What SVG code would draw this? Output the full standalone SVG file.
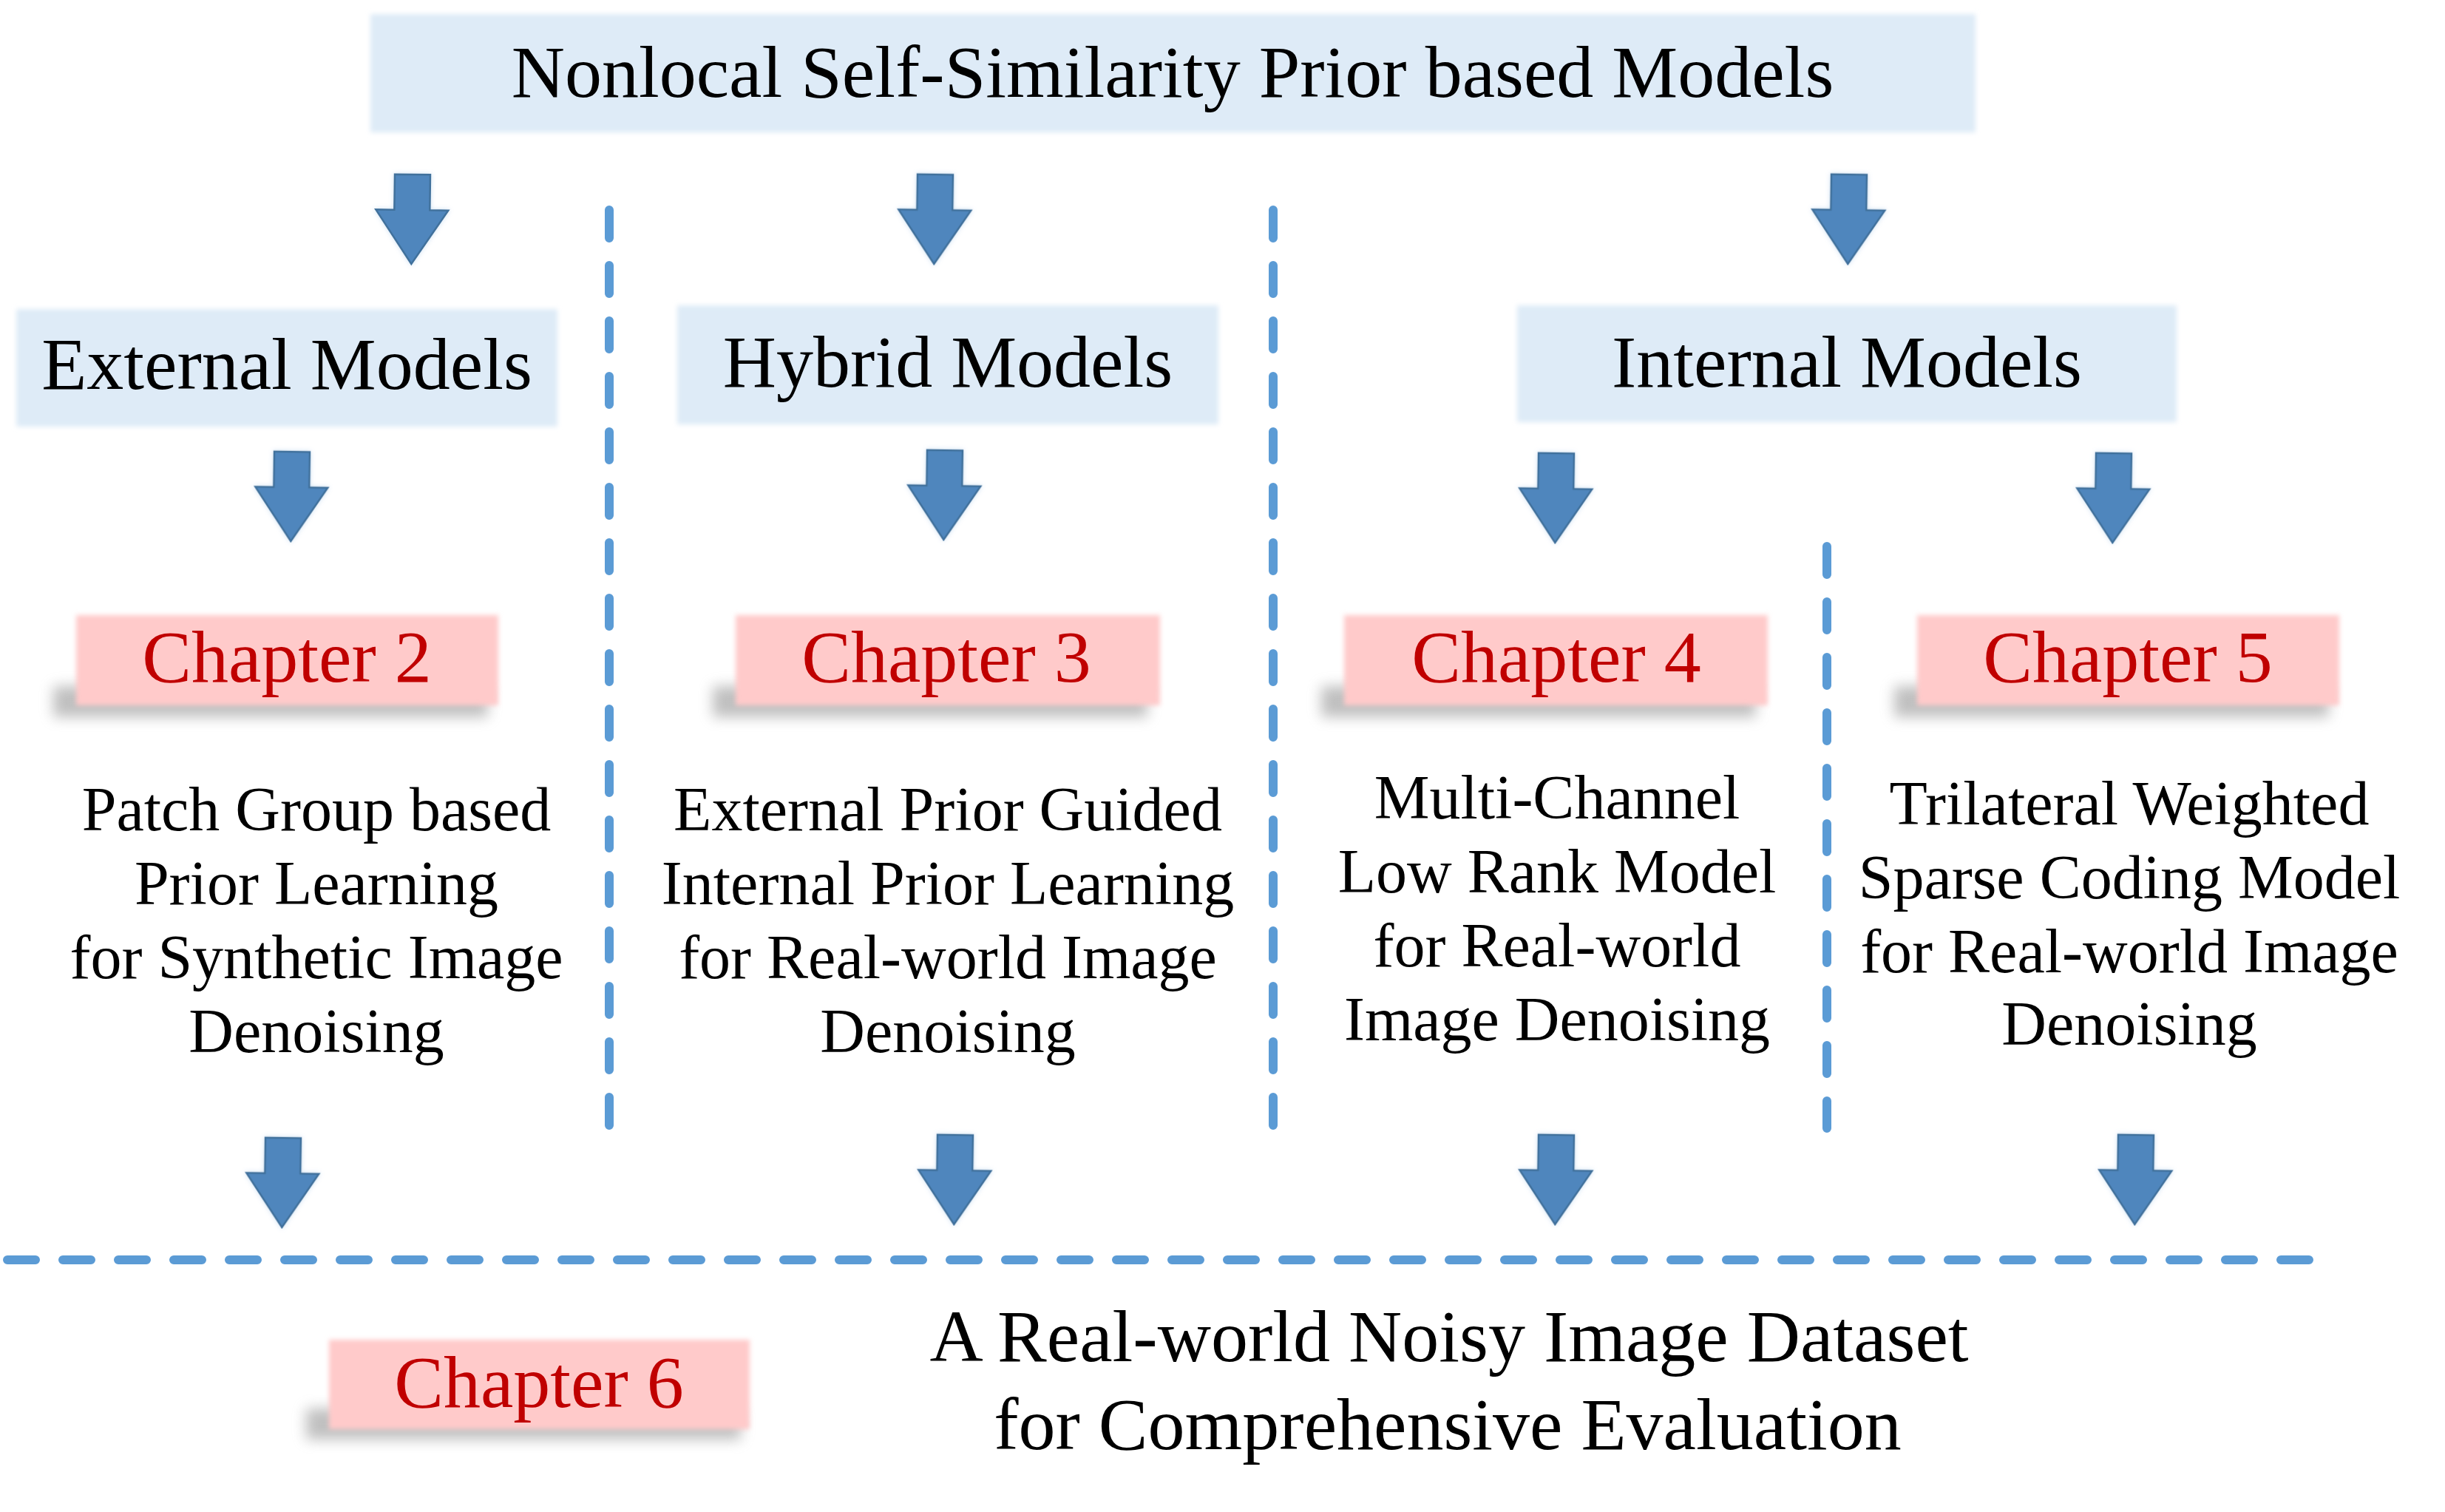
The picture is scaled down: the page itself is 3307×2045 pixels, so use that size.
<svg xmlns="http://www.w3.org/2000/svg" xmlns:xlink="http://www.w3.org/1999/xlink" width="3307" height="2045" viewBox="0 0 3307 2045">
<style>
.bbox{fill:#DEEBF7;filter:url(#soft)}
.pbox{fill:#FFCACA;filter:url(#soft)}
.shadow{fill:#8C8C8C;opacity:0.55;filter:url(#shblur)}
.t{font-family:"Liberation Serif","Times New Roman",serif;text-anchor:middle;fill:#000}
.big{font-size:100px}
.mid{font-size:84px}
.ch{font-size:100px;fill:#C00000}
.arrow{fill:#4F86BD;stroke:#41719C;stroke-width:2.5;stroke-linejoin:miter}
.vdash{stroke:#5B9BD5;stroke-width:12;stroke-linecap:round;stroke-dasharray:38 37;fill:none}
.hdash{stroke:#5B9BD5;stroke-width:12;stroke-linecap:round;stroke-dasharray:38 37;fill:none}
</style>
<defs>
<filter id="soft" x="-5%" y="-10%" width="110%" height="120%"><feGaussianBlur stdDeviation="3"/></filter>
<filter id="shblur" x="-10%" y="-50%" width="120%" height="200%"><feGaussianBlur stdDeviation="9"/></filter>
<filter id="aglow" x="-30%" y="-30%" width="160%" height="160%"><feGaussianBlur in="SourceAlpha" stdDeviation="3" result="b"/><feFlood flood-color="#9DC3E6" flood-opacity="0.5"/><feComposite in2="b" operator="in" result="g"/><feMerge><feMergeNode in="g"/><feMergeNode in="SourceGraphic"/></feMerge></filter>
<path id="arr" d="M-24,0 L24,0 L24,48 L49,48 L0,121 L-49,48 L-24,48 Z"/>
</defs>
<rect width="3307" height="2045" fill="#fff"/>

<g id="connectors">
<g id="arrows" filter="url(#aglow)">
<use xlink:href="#arr" class="arrow" transform="translate(558,236) rotate(0.8)"/>
<use xlink:href="#arr" class="arrow" transform="translate(1265,236) rotate(0.8)"/>
<use xlink:href="#arr" class="arrow" transform="translate(2501,236) rotate(0.8)"/>
<use xlink:href="#arr" class="arrow" transform="translate(395,611) rotate(0.8)"/>
<use xlink:href="#arr" class="arrow" transform="translate(1278,609) rotate(0.8)"/>
<use xlink:href="#arr" class="arrow" transform="translate(2105,613) rotate(0.8)"/>
<use xlink:href="#arr" class="arrow" transform="translate(2859,613) rotate(0.8)"/>
<use xlink:href="#arr" class="arrow" transform="translate(383,1539) rotate(0.8)"/>
<use xlink:href="#arr" class="arrow" transform="translate(1292,1535) rotate(0.8)"/>
<use xlink:href="#arr" class="arrow" transform="translate(2105,1535) rotate(0.8)"/>
<use xlink:href="#arr" class="arrow" transform="translate(2889,1535) rotate(0.8)"/>
</g>
<line class="vdash" x1="824" y1="284" x2="824" y2="1522"/>
<line class="vdash" x1="1722" y1="284" x2="1722" y2="1522"/>
<line class="vdash" x1="2471" y1="739" x2="2471" y2="1526"/>
<line class="hdash" x1="10" y1="1704" x2="3124" y2="1704"/>
</g>

<g id="top">
<rect class="bbox" x="501" y="19" width="2171" height="160"/>
<text class="t big" x="1586" y="131">Nonlocal Self-Similarity Prior based Models</text>
</g>

<g id="external">
<rect class="bbox" x="22" y="418" width="732" height="159"/>
<text class="t big" x="388" y="526">External Models</text>
</g>

<g id="hybrid">
<rect class="bbox" x="916" y="413" width="732" height="161"/>
<text class="t big" x="1282" y="523">Hybrid Models</text>
</g>

<g id="internal">
<rect class="bbox" x="2052" y="413" width="892" height="158"/>
<text class="t big" x="2498" y="523">Internal Models</text>
</g>

<g id="ch2">
<rect class="shadow" x="72" y="928" width="588" height="42"/>
<rect class="pbox" x="103" y="832" width="571" height="122"/>
<text class="t ch" x="388" y="922">Chapter 2</text>
</g>

<g id="ch3">
<rect class="shadow" x="964" y="928" width="588" height="42"/>
<rect class="pbox" x="995" y="832" width="574" height="122"/>
<text class="t ch" x="1280" y="922">Chapter 3</text>
</g>

<g id="ch4">
<rect class="shadow" x="1787" y="928" width="588" height="42"/>
<rect class="pbox" x="1818" y="832" width="573" height="122"/>
<text class="t ch" x="2105" y="922">Chapter 4</text>
</g>

<g id="ch5">
<rect class="shadow" x="2562" y="928" width="588" height="42"/>
<rect class="pbox" x="2593" y="832" width="571" height="122"/>
<text class="t ch" x="2878" y="922">Chapter 5</text>
</g>

<g id="desc2">
<text class="t mid" x="428" y="1123">Patch Group based</text>
<text class="t mid" x="428" y="1223">Prior Learning</text>
<text class="t mid" x="428" y="1323">for Synthetic Image</text>
<text class="t mid" x="428" y="1423">Denoising</text>
</g>

<g id="desc3">
<text class="t mid" x="1282" y="1123">External Prior Guided</text>
<text class="t mid" x="1282" y="1223">Internal Prior Learning</text>
<text class="t mid" x="1282" y="1323">for Real-world Image</text>
<text class="t mid" x="1282" y="1423">Denoising</text>
</g>

<g id="desc4">
<text class="t mid" x="2106" y="1107">Multi-Channel</text>
<text class="t mid" x="2106" y="1207">Low Rank Model</text>
<text class="t mid" x="2106" y="1307">for Real-world</text>
<text class="t mid" x="2106" y="1407">Image Denoising</text>
</g>

<g id="desc5">
<text class="t mid" x="2880" y="1115">Trilateral Weighted</text>
<text class="t mid" x="2880" y="1215">Sparse Coding Model</text>
<text class="t mid" x="2880" y="1315">for Real-world Image</text>
<text class="t mid" x="2880" y="1413">Denoising</text>
</g>

<g id="ch6">
<rect class="shadow" x="414" y="1905" width="588" height="42"/>
<rect class="pbox" x="445" y="1812" width="569" height="121"/>
<text class="t ch" x="729" y="1903">Chapter 6</text>
</g>

<g id="dataset">
<text class="t big" x="1960" y="1841">A Real-world Noisy Image Dataset</text>
<text class="t big" x="1958" y="1960">for Comprehensive Evaluation</text>
</g>
</svg>
